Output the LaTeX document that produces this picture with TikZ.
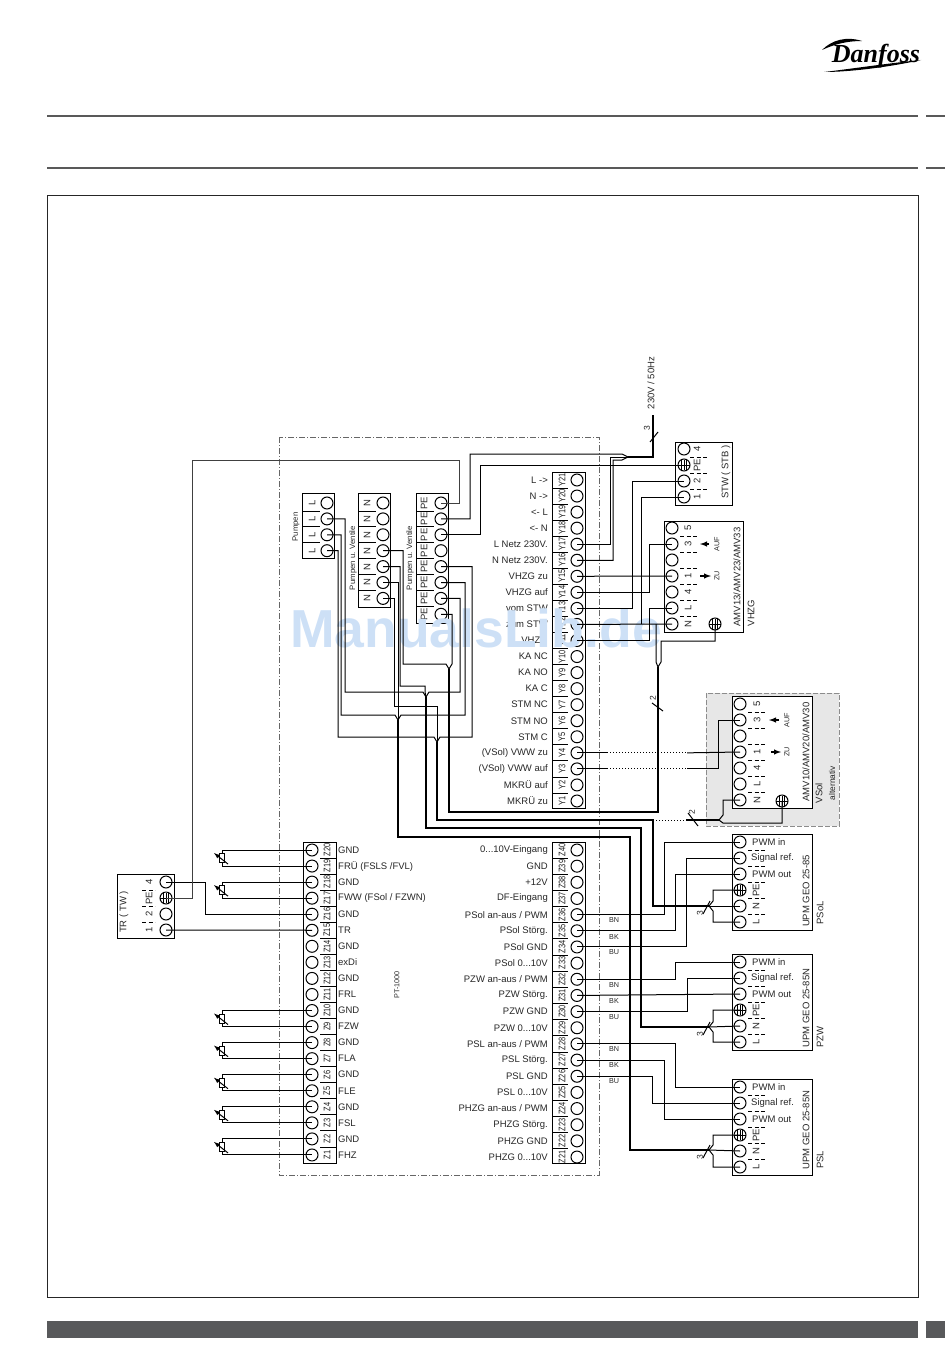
\documentclass[tikz,border=0pt]{standalone}
\usepackage{fontspec}
\setmainfont{Liberation Sans}
\newfontfamily\logofont{Liberation Serif}
\usetikzlibrary{arrows, calc}

\definecolor{barcol}{HTML}{58595B}
\definecolor{markcol}{HTML}{CDE0F6}
\definecolor{altcol}{HTML}{E7E7E7}

\tikzset{
  term/.style={circle, draw, inner sep=0pt, minimum size=12pt, line width=1pt},
  earth/.style={term, path picture={
    \draw[line width=.7pt] ([xshift=-6pt]path picture bounding box.center) -- ([xshift=6pt]path picture bounding box.center);
    \foreach \d in {-2.6,0,2.6}{\draw[line width=.7pt] ([xshift=\d pt,yshift=-5pt]path picture bounding box.center) -- ([xshift=\d pt,yshift=5pt]path picture bounding box.center);}
  }},
  lbl/.style={font=\fontsize{9.5}{11}\selectfont, inner sep=0pt, text=black!85},
  tag/.style={font=\fontsize{9.5}{10}\selectfont, inner sep=0pt, rotate=90, xscale=.78, text=black!90},
  wee/.style={font=\fontsize{7.2}{8}\selectfont, inner sep=0pt, text=black!85},
  turned/.style={lbl, rotate=90},
  wire/.style={line width=1pt, line join=miter},
  cable/.style={line width=2.2pt, line join=miter},
  sepline/.style={line width=.8pt},
  sepdash/.style={line width=.8pt, dash pattern=on 4pt off 2.5pt},
  sensorbody/.style={draw, fill=white, inner sep=0pt, minimum width=5pt, minimum height=9pt, line width=.9pt},
}

\begin{document}
\begin{tikzpicture}[x=1pt, y=-1pt]
  \useasboundingbox (0,0) rectangle (950,1364);

  \draw[line width=1.5pt, black!65] (47,116) -- (918,116);
  \draw[line width=1.5pt, black!65] (926,116) -- (945,116);
  \draw[line width=1.5pt, black!65] (47,168) -- (918,168);
  \draw[line width=1.5pt, black!65] (926,168) -- (945,168);
  \draw[line width=.9pt, black!85] (47,195) rectangle (918,1297);
  \fill[barcol] (47,1321) rectangle (918,1338);
  \fill[barcol] (926,1321) rectangle (945,1338);

  \node[font=\logofont\fontsize{26}{26}\selectfont\bfseries\itshape, inner sep=0pt, anchor=base] (logotext) at (876,63) {Danfoss};
  \fill (822,50) .. controls (832,40) and (846,36) .. (862,41) .. controls (847,41) and (835,44) .. (822,50);
  \fill (824,72) .. controls (850,69) and (890,63) .. (921,60) .. controls (890,67) and (850,72) .. (824,72);

  \draw[gray!90, line width=.8pt, fill=altcol, dash pattern=on 5pt off 2pt] (706,693) rectangle (839,826);
  \draw[line width=1pt, black!60, dash pattern=on 6pt off 2pt on 1pt off 2pt] (279,437) rectangle (599,1175);

  % controller strips
  \draw[wire] (552,472) rectangle (585,808);
  \foreach \n/\lab in {21/{L ->},20/{N ->},19/{<- L},18/{<- N},17/{L Netz 230V.},16/{N Netz 230V.},15/{VHZG zu},14/{VHZG auf},13/{vom STW},12/{zum STW},11/{L VHZG},10/{KA NC},9/{KA NO},8/{KA C},7/{STM NC},6/{STM NO},5/{STM C},4/{(VSol) VWW zu},3/{(VSol) VWW auf},2/{MKRÜ auf},1/{MKRÜ zu}}{
    \pgfmathsetmacro\yy{801-(\n-1)*16.05}
    \node[term] (Y\n) at (577,\yy) {};
    \node[tag] (tY\n) at (562,\yy) {Y\n};
    \node[lbl, anchor=east] (lY\n) at (548,\yy) {\lab};
    \ifnum\n>1 \draw[sepline] (552,\yy+8) -- (568,\yy+8); \fi
  }
  \draw[wire] (303,842) rectangle (336,1163);
  \foreach \n/\lab in {20/{GND},19/{FRÜ (FSLS /FVL)},18/{GND},17/{FWW (FSol / FZWN)},16/{GND},15/{TR},14/{GND},13/{exDi},12/{GND},11/{FRL},10/{GND},9/{FZW},8/{GND},7/{FLA},6/{GND},5/{FLE},4/{GND},3/{FSL},2/{GND},1/{FHZ}}{
    \pgfmathsetmacro\yy{850+(20-\n)*16.05}
    \node[term] (Z\n) at (312,\yy) {};
    \node[tag] (tZ\n) at (327,\yy) {Z\n};
    \node[lbl, anchor=west] (lZ\n) at (338,\yy) {\lab};
    \ifnum\n>1 \draw[sepline] (320,\yy+8) -- (336,\yy+8); \fi
  }
  \draw[wire] (552,842) rectangle (585,1163);
  \foreach \n/\lab in {40/{0...10V-Eingang},39/{GND},38/{+12V},37/{DF-Eingang},36/{PSol an-aus / PWM},35/{PSol Störg.},34/{PSol GND},33/{PSol 0...10V},32/{PZW an-aus / PWM},31/{PZW Störg.},30/{PZW GND},29/{PZW 0...10V},28/{PSL an-aus / PWM},27/{PSL Störg.},26/{PSL GND},25/{PSL 0...10V},24/{PHZG an-aus / PWM},23/{PHZG Störg.},22/{PHZG GND},21/{PHZG 0...10V}}{
    \pgfmathsetmacro\yy{850+(40-\n)*16.16}
    \node[term] (Z\n) at (577,\yy) {};
    \node[tag] (tZ\n) at (562,\yy) {Z\n};
    \node[lbl, anchor=east] (lZ\n) at (548,\yy) {\lab};
    \ifnum\n>21 \draw[sepline] (552,\yy+8) -- (568,\yy+8); \fi
  }
  \node[wee, rotate=90] (pt) at (397,985) {PT-1000};

  % bridges
  \draw[wire] (302,493) rectangle (334,558);
  \foreach \n in {1,...,4}{
    \pgfmathsetmacro\yy{503+(\n-1)*15.9}
    \node[term] (Pu\n) at (327,\yy) {};
    \node[turned] (tPu\n) at (312,\yy) {L};
    \ifnum\n>1 \draw[sepline] (302,\yy-8) -- (320,\yy-8); \fi
  }
  \node[wee, rotate=90, font=\fontsize{7.8}{9}\selectfont] (pumpen) at (296,527) {Pumpen};
  \draw[wire] (358,493) rectangle (390,607);
  \foreach \n in {1,...,7}{
    \pgfmathsetmacro\yy{503+(\n-1)*15.9}
    \node[term] (Nv\n) at (383,\yy) {};
    \node[turned] (tNv\n) at (367,\yy) {N};
    \ifnum\n>1 \draw[sepline] (358,\yy-8) -- (376,\yy-8); \fi
  }
  \node[wee, rotate=90, font=\fontsize{7.8}{9}\selectfont] (nvent) at (353,558) {Pumpen u. Ventile};
  \draw[wire] (416,493) rectangle (448,623);
  \foreach \n in {1,...,8}{
    \pgfmathsetmacro\yy{503+(\n-1)*15.9}
    \node[term] (Pe\n) at (441,\yy) {};
    \node[turned] (tPe\n) at (424,\yy) {PE};
    \ifnum\n>1 \draw[sepline] (416,\yy-8) -- (434,\yy-8); \fi
  }
  \node[wee, rotate=90, font=\fontsize{7.8}{9}\selectfont] (pevent) at (410,558) {Pumpen u. Ventile};

  % room thermostats
  \draw[wire] (675,442) rectangle (732,505);
  \node[term] (St4) at (684,449) {};
  \node[earth] (StE) at (684,465) {};
  \node[term] (St2) at (684,481) {};
  \node[term] (St1) at (684,497) {};
  \node[turned] (tSt4) at (697,449) {4};
  \node[turned] (tStE) at (697,465) {PE};
  \node[turned] (tSt2) at (697,481) {2};
  \node[turned] (tSt1) at (697,497) {1};
  \foreach \yy in {457,473,489}{\draw[sepdash] (690,\yy) -- (707,\yy);}
  \node[turned] (stw) at (726,472) {STW ( STB )};

  \draw[wire] (117,874) rectangle (174,938);
  \node[term] (Tr4) at (166,882) {};
  \node[earth] (TrE) at (166,898) {};
  \node[term] (Tr2) at (166,914) {};
  \node[term] (Tr1) at (166,930) {};
  \node[turned] (tTr4) at (149,882) {4};
  \node[turned] (tTrE) at (149,898) {PE};
  \node[turned] (tTr2) at (149,914) {2};
  \node[turned] (tTr1) at (149,930) {1};
  \foreach \yy in {890,906,922}{\draw[sepdash] (142,\yy) -- (155,\yy);}
  \node[turned] (trtw) at (124,912) {TR ( TW )};

  % valves
  \draw[wire] (664,521) rectangle (743,632);
  \foreach \n/\lab in {1/5,2/3,3/{},4/1,5/4,6/L,7/N}{
    \pgfmathsetmacro\yy{528+(\n-1)*16}
    \node[term] (Vh\n) at (672,\yy) {};
    \node[turned] (tVh\n) at (688,\yy) {\lab};
    \ifnum\n>1 \draw[sepdash] (680,\yy-8) -- (697,\yy-8); \fi
  }
  \node[earth] (VhE) at (715,624) {};
  \draw[wire, line width=1.4pt, -latex] (709,544) -- (700,544);
  \draw[wire, line width=1.4pt, -latex] (700,576) -- (711,576);
  \node[wee, rotate=90] (vhauf) at (717,544) {AUF};
  \node[wee, rotate=90] (vhzu) at (717,576) {ZU};
  \node[turned] (vhamv) at (737,577) {AMV13/AMV23/AMV33};
  \node[turned] (vhzg) at (751,613) {VHZG};

  \draw[wire, fill=white] (732,696) rectangle (812,808);
  \foreach \n/\lab in {1/5,2/3,3/{},4/1,5/4,6/L,7/N}{
    \pgfmathsetmacro\yy{704+(\n-1)*16}
    \node[term] (Vs\n) at (740,\yy) {};
    \node[turned] (tVs\n) at (757,\yy) {\lab};
    \ifnum\n>1 \draw[sepdash] (748,\yy-8) -- (765,\yy-8); \fi
  }
  \node[earth] (VsE) at (782,801) {};
  \draw[wire, line width=1.4pt, -latex] (779,720) -- (769,720);
  \draw[wire, line width=1.4pt, -latex] (771,752) -- (781,752);
  \node[wee, rotate=90] (vsauf) at (787,720) {AUF};
  \node[wee, rotate=90] (vszu) at (787,752) {ZU};
  \node[turned] (vsamv) at (806,752) {AMV10/AMV20/AMV30};
  \node[turned] (vsol) at (819,793) {VSol};
  \node[turned, font=\fontsize{8.4}{10}\selectfont] (vsalt) at (832,783) {alternativ};

  % pumps
  \foreach \p/\top/\nam/\typ/\typy/\namy in {Pa/834/PSoL/{UPM GEO 25-85}/891/913,Pb/954/PZW/{UPM GEO 25-85N}/1008/1037,Pc/1079/PSL/{UPM GEO 25-85N}/1130/1160}{
    \draw[wire] (732,\top) rectangle (812,\top+96);
    \node[term] (\p1) at (740,\top+8) {};
    \node[term] (\p2) at (740,\top+24) {};
    \node[term] (\p3) at (740,\top+40) {};
    \node[earth] (\p4) at (740,\top+56) {};
    \node[term] (\p5) at (740,\top+72) {};
    \node[term] (\p6) at (740,\top+88) {};
    \node[lbl, anchor=west] (t\p1) at (752,\top+8) {PWM in};
    \node[lbl, anchor=west] (t\p2) at (751,\top+24) {Signal ref.};
    \node[lbl, anchor=west] (t\p3) at (752,\top+40) {PWM out};
    \node[turned] (t\p4) at (756,\top+56) {PE};
    \node[turned] (t\p5) at (756,\top+72) {N};
    \node[turned] (t\p6) at (756,\top+88) {L};
    \foreach \d in {16,32,48,64,80}{\draw[sepdash] (748,\top+\d) -- (765,\top+\d);}
    \node[turned] (typ\p) at (806,\typy) {\typ};
    \node[turned] (nam\p) at (820,\namy) {\nam};
  }

  \foreach \yy/\lab in {920/BN,937/BK,952/BU,985/BN,1001/BK,1017/BU,1049/BN,1065/BK,1081/BU}{
    \node[wee] (c\yy) at (614,\yy) {\lab};
  }

  % sits over the print, under the wires
  \node[font=\fontsize{53.5}{54}\selectfont\bfseries, text=markcol, inner sep=0pt, anchor=base] (mark) at (476,647) {ManualsLib.de};

  % sensors
  \foreach \a/\b in {20/19,18/17,10/9,8/7,6/5,4/3,2/1}{
    \draw[wire] (Z\a.center) -- (222,0 |- Z\a) -- (222,0 |- Z\b) -- (Z\b.center);
    \path (222,0 |- Z\a) -- (222,0 |- Z\b) node[midway, sensorbody] (S\a) {};
    \draw[wire, -latex] ([shift={(6,6)}]S\a.center) -- ([shift={(-8,-5)}]S\a.center);
  }

  % thermostat wiring
  \draw[wire] (Tr4.center) -- (205,0 |- Tr4) -- (205,0 |- Z16) -- (Z16.center);
  \draw[wire] (Tr1.center) -- (Z15.center);
  \draw[wire, black!75] (TrE.center) -- (192,0 |- TrE) -- (192,460) -- (459,460) -- (459,0 |- Pe1) -- (Pe1.center);

  % mains
  \coordinate (netz) at (628,457);
  \draw[wire] (Pe2.center) -- (470,0 |- Pe2) -- (470,454) -- (622,454) -- (netz);
  \draw[wire] (Pe3.center) -- (480,0 |- Pe3) -- (480,0 |- StE) -- (StE.center);
  \draw[wire] (Y17.center) -- (610,0 |- Y17) -- (610,457) -- (netz);
  \draw[wire] (Y16.center) -- (613,0 |- Y16) -- (613,460) -- (622,460) -- (netz);
  \draw[cable] (netz) -- (653,457) -- (653,415);
  \draw[wire] (650,442) -- (658,432);
  \node[turned, font=\fontsize{8.5}{9}\selectfont] (n3) at (647,428) {3};
  \node[turned] (mains) at (651,383) {230V / 50Hz};

  % valve wiring
  \coordinate (tV) at (658,667);
  \draw[wire] (Y15.center) -- (Vh4.center);
  \draw[wire] (Y14.center) -- (649,0 |- Y14) -- (649,0 |- Vh2) -- (Vh2.center);
  \draw[wire] (Y13.center) -- (632,0 |- Y13) -- (632,0 |- St2) -- (St2.center);
  \draw[wire] (Y12.center) -- (Vh7.center);
  \draw[wire] (641,0 |- Y12) -- (641,0 |- St1) -- (St1.center);
  \draw[wire] (Y11.center) -- (649,0 |- Y11) -- (649,0 |- Vh6) -- (Vh6.center);
  \draw[wire] (656,0 |- Vh7) -- (656,662) -- (tV);
  \draw[wire] (VhE.center) -- (715,641) -- (661,641) -- (661,662) -- (tV);

  \draw[wire] (Y4.center) -- (607,0 |- Y4);
  \draw[wire, dotted] (607,0 |- Y4) -- (687,0 |- Y4);
  \draw[wire] (687,0 |- Y4) -- (Vs4.center);
  \draw[wire] (Y3.center) -- (607,0 |- Y3);
  \draw[wire, dotted] (607,0 |- Y3) -- (687,0 |- Y3);
  \draw[wire] (687,0 |- Y3) -- (718,0 |- Y3) -- (718,0 |- Vs2) -- (Vs2.center);

  % bridge wiring
  \coordinate (tA) at (449,669);
  \coordinate (tB) at (426,697);
  \coordinate (tC) at (398,720);
  \coordinate (tD) at (437,742);
  \draw[wire] (Nv4.center) -- (403,0 |- Nv4) -- (403,664) -- (446,664) -- (tA);
  \draw[wire] (Pe8.center) -- (452,0 |- Pe8) -- (452,664) -- (tA);
  \draw[wire] (Pu2.center) -- (345,0 |- Pu2) -- (345,692) -- (423,692) -- (tB);
  \draw[wire] (Pe7.center) -- (460,0 |- Pe7) -- (460,692) -- (429,692) -- (tB);
  \draw[wire] (Nv5.center) -- (400,0 |- Nv5) -- (400,686) -- (425,686) -- (425,692) -- (tB);
  \draw[wire] (Pu3.center) -- (341,0 |- Pu3) -- (341,715) -- (395,715) -- (tC);
  \draw[wire] (Pe6.center) -- (465,0 |- Pe6) -- (465,715) -- (401,715) -- (tC);
  \draw[wire] (Nv6.center) -- (398,0 |- Nv6) -- (tC);
  \draw[wire] (Pu4.center) -- (338,0 |- Pu4) -- (338,737) -- (434,737) -- (tD);
  \draw[wire] (Pe5.center) -- (472,0 |- Pe5) -- (472,737) -- (440,737) -- (tD);
  \draw[wire] (Nv7.center) -- (394,0 |- Nv7) -- (394,706) -- (437,706) -- (tD);

  % power cables
  \coordinate (tPa) at (709,906);
  \coordinate (tPb) at (709,1027);
  \coordinate (tPc) at (709,1150);
  \coordinate (tVs) at (719,820);
  \draw[cable] (tA) -- (449,812) -- (658,812) -- (tV);
  \draw[cable] (tD) -- (437,820) -- (653,820) -- (653,906) -- (tPa);
  \draw[cable] (tB) -- (426,828) -- (641,828) -- (641,1027) -- (tPb);
  \draw[cable] (tC) -- (398,837) -- (630,837) -- (630,1150) -- (tPc);
  \foreach \p in {Pa,Pb,Pc}{
    \draw[wire] (\p4.center) -- (713,0 |- \p4) -- ($(t\p)+(4,-5)$) -- (t\p);
    \draw[wire] (\p6.center) -- (713,0 |- \p6) -- ($(t\p)+(4,5)$) -- (t\p);
    \draw[wire] (t\p) -- (\p5.center);
    \draw[wire] ($(t\p)+(-6,8)$) -- ($(t\p)+(1,-5)$);
    \node[turned, font=\fontsize{8.5}{9}\selectfont] (n\p) at ($(t\p)+(-9,7)$) {3};
  }
  \draw[wire] (652,703) -- (663,711);
  \node[turned, font=\fontsize{8.5}{9}\selectfont] (nV) at (653,698) {2};
  \draw[wire, dotted] (653,820) -- (686,820);
  \draw[cable] (686,820) -- (tVs);
  \draw[wire] (tVs) -- (723,815) -- (723,0 |- Vs7) -- (Vs7.center);
  \draw[wire] (tVs) -- (723,823) -- (782,823) -- (VsE.center);
  \draw[wire] (688,813) -- (698,826);
  \node[turned, font=\fontsize{8.5}{9}\selectfont] (nVs) at (692,812) {2};

  % pump signal wiring
  \draw[wire] (Z36.center) -- (664,0 |- Z36) -- (664,0 |- Pa1) -- (Pa1.center);
  \draw[wire] (Z35.center) -- (675,0 |- Z35) -- (675,0 |- Pa3) -- (Pa3.center);
  \draw[wire] (Z34.center) -- (686,0 |- Z34) -- (686,0 |- Pa2) -- (Pa2.center);
  \draw[wire] (Z32.center) -- (675,0 |- Z32) -- (675,0 |- Pb1) -- (Pb1.center);
  \draw[wire] (Z31.center) -- (Pb3.center);
  \draw[wire] (Z30.center) -- (687,0 |- Z30) -- (687,0 |- Pb2) -- (Pb2.center);
  \draw[wire] (Z28.center) -- (675,0 |- Z28) -- (675,0 |- Pc1) -- (Pc1.center);
  \draw[wire] (Z27.center) -- (664,0 |- Z27) -- (664,0 |- Pc3) -- (Pc3.center);
  \draw[wire] (Z26.center) -- (652,0 |- Z26) -- (652,0 |- Pc2) -- (Pc2.center);
\end{tikzpicture}
\end{document}
